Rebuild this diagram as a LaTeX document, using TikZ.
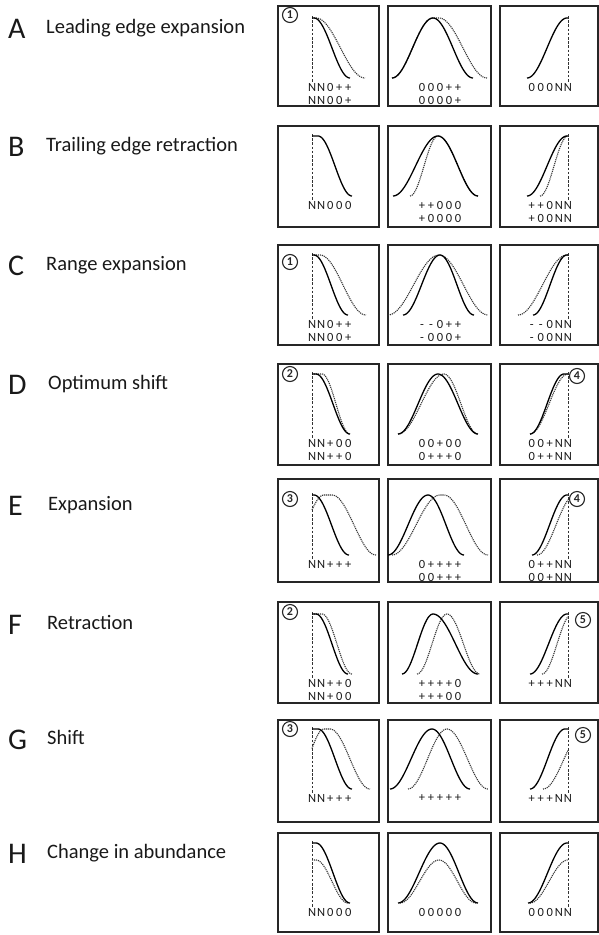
\documentclass[tikz,border=0pt]{standalone}
\usepackage{fontspec}
\setmainfont{Carlito}
\makeatletter
\newcommand\cseq[1]{\@tfor\cc:=#1\do{\makebox[9pt]{\cc}}}
\makeatother
\tikzset{
 boxframe/.style={draw=black!85, line width=1.2pt},
 solidc/.style={draw=black, line width=1.3pt},
 dotc/.style={draw=black!80, line width=1.1pt, dash pattern=on 1.1pt off 0.9pt},
 rangeline/.style={draw=black!80, line width=0.9pt, dash pattern=on 2.6pt off 1.6pt},
 codetext/.style={font=\fontsize{12.5}{13}\selectfont, inner sep=0pt, text=black!90},
 lettertext/.style={font=\fontsize{30}{30}\selectfont, anchor=base west, inner sep=0pt, text=black!90},
 labeltext/.style={font=\fontsize{20.5}{22}\selectfont, anchor=base west, inner sep=0pt, text=black!90},
 circnum/.style={draw=black!85, circle, line width=1.1pt, minimum size=15pt, inner sep=0pt, font=\fontsize{12}{12}\selectfont\bfseries, text=black!85},
}
% style, xs, xe, T, L, Ls, Rs, R
\newcommand\crv[8]{\draw[#1] plot[domain=#2:#3, samples=60, smooth] (\x, {60-(60-#4)*rs(\x,#5,#6)*(1-rs(\x,#7,#8))});}
\newcommand\fallc[4]{\crv{#1}{34}{#4}{#2}{-20}{0}{#3}{#4}}% style,T,Rs,R
\newcommand\risec[4]{\crv{#1}{#3}{68}{#2}{#3}{#4}{200}{220}}% style,T,L,Ls
\newcommand\bellc[6]{\crv{#1}{#3}{#6}{#2}{#3}{#4}{#5}{#6}}% style,T,L,Ls,Rs,R
\newcommand\lcodes[2]{\node[codetext, anchor=west] at (29.5,69) {\cseq{#1}};%
 \if\relax\detokenize{#2}\relax\else\node[codetext, anchor=west] at (29.5,82) {\cseq{#2}};\fi}
\newcommand\mcodes[2]{\node[codetext] at (52,69) {\cseq{#1}};%
 \if\relax\detokenize{#2}\relax\else\node[codetext] at (52,82) {\cseq{#2}};\fi}
\newcommand\rcodes[2]{\node[codetext, anchor=east] at (72.5,69) {\cseq{#1}};%
 \if\relax\detokenize{#2}\relax\else\node[codetext, anchor=east] at (72.5,82) {\cseq{#2}};\fi}
\newcommand\ldash{\draw[rangeline] (34,-2) -- (34,65);}
\newcommand\rdash{\draw[rangeline] (68,-2) -- (68,65);}
\newcommand\rowboxes[2]{%
 \draw[boxframe] (278,#1) rectangle (379,#2);
 \draw[boxframe] (388,#1) rectangle (491,#2);
 \draw[boxframe] (500,#1) rectangle (598,#2);}

\begin{document}
\begin{tikzpicture}[x=1pt, y=-1pt,
  declare function={rs(\xx,\la,\lb)=(1-cos(180*max(0,min(1,(\xx-\la)/(\lb-\la)))))/2;}]
\useasboundingbox (0,0) rectangle (599,935);

% ---------- labels ----------
\node[lettertext] (lA) at (8,38) {A};
\node[labeltext] (tA) at (46,33) {Leading edge expansion};
\node[lettertext] (lB) at (8,156) {B};
\node[labeltext] (tB) at (46,151) {Trailing edge retraction};
\node[lettertext] (lC) at (8,275) {C};
\node[labeltext] (tC) at (46,270) {Range expansion};
\node[lettertext] (lD) at (8,394) {D};
\node[labeltext] (tD) at (48,389) {Optimum shift};
\node[lettertext] (lE) at (8,515) {E};
\node[labeltext] (tE) at (48,510) {Expansion};
\node[lettertext] (lF) at (8,634) {F};
\node[labeltext] (tF) at (47,629) {Retraction};
\node[lettertext] (lG) at (8,749) {G};
\node[labeltext] (tG) at (47,744) {Shift};
\node[lettertext] (lH) at (8,863) {H};
\node[labeltext] (tH) at (47,858) {Change in abundance};

% ---------- boxes ----------
\rowboxes{6}{106}
\rowboxes{126}{227}
\rowboxes{245}{345}
\rowboxes{364}{465}
\rowboxes{479}{582}
\rowboxes{602}{703}
\rowboxes{720}{822}
\rowboxes{833}{932}

% ---------- Row A ----------
\begin{scope}[shift={(278,18)}]
 \ldash \fallc{dotc}{0}{38}{87} \fallc{solidc}{0}{36}{72} \lcodes{NN0++}{NN00+}
\end{scope}
\begin{scope}[shift={(388,18)}]
 \bellc{dotc}{0}{4}{45}{51}{99} \bellc{solidc}{0}{4}{45}{45}{85} \mcodes{000++}{0000+}
\end{scope}
\begin{scope}[shift={(500,18)}]
 \rdash \risec{solidc}{0}{27}{67} \rcodes{000NN}{}
\end{scope}

% ---------- Row B ----------
\begin{scope}[shift={(278,136)}]
 \ldash \fallc{solidc}{0}{40}{74} \lcodes{NN000}{}
\end{scope}
\begin{scope}[shift={(388,136)}]
 \bellc{dotc}{0}{22}{50}{50}{90} \bellc{solidc}{0}{5}{50}{50}{90} \mcodes{++000}{+0000}
\end{scope}
\begin{scope}[shift={(500,136)}]
 \rdash \risec{dotc}{0}{40}{68} \risec{solidc}{0}{27}{67} \rcodes{++0NN}{+00NN}
\end{scope}

% ---------- Row C ----------
\begin{scope}[shift={(278,255)}]
 \ldash \fallc{dotc}{0}{42}{88} \fallc{solidc}{0}{36}{70} \lcodes{NN0++}{NN00+}
\end{scope}
\begin{scope}[shift={(388,255)}]
 \bellc{dotc}{0}{0}{51}{51}{100} \bellc{solidc}{0}{15}{52}{52}{86} \mcodes{--0++}{-000+}
\end{scope}
\begin{scope}[shift={(500,255)}]
 \rdash \risec{dotc}{0}{18}{67} \risec{solidc}{0}{33}{67} \rcodes{--0NN}{-00NN}
\end{scope}

% ---------- Row D ----------
\begin{scope}[shift={(278,374)}]
 \ldash \fallc{dotc}{0}{44}{72} \fallc{solidc}{0}{38}{72} \lcodes{NN+00}{NN++0}
\end{scope}
\begin{scope}[shift={(388,374)}]
 \bellc{dotc}{0}{10}{56}{56}{90} \bellc{solidc}{0}{10}{50}{50}{90} \mcodes{00+00}{0+++0}
\end{scope}
\begin{scope}[shift={(500,374)}]
 \rdash \risec{dotc}{0}{30}{68} \risec{solidc}{0}{30}{64} \rcodes{00+NN}{0++NN}
\end{scope}

% ---------- Row E ----------
\begin{scope}[shift={(278,495)}]
 \ldash \crv{dotc}{34}{98}{0}{10}{46}{54}{98} \fallc{solidc}{0}{36}{71} \lcodes{NN+++}{}
\end{scope}
\begin{scope}[shift={(388,495)}]
 \bellc{dotc}{0}{4}{52}{56}{100} \bellc{solidc}{0}{0}{40}{40}{76} \mcodes{0++++}{00+++}
\end{scope}
\begin{scope}[shift={(500,495)}]
 \rdash \risec{dotc}{0}{37}{75} \risec{solidc}{0}{32}{67} \rcodes{0++NN}{00+NN}
\end{scope}

% ---------- Row F ----------
\begin{scope}[shift={(278,614)}]
 \ldash \fallc{dotc}{0}{44}{74} \fallc{solidc}{0}{38}{70} \lcodes{NN++0}{NN+00}
\end{scope}
\begin{scope}[shift={(388,614)}]
 \bellc{dotc}{0}{29}{59}{59}{92} \bellc{solidc}{0}{14}{45}{45}{90} \mcodes{++++0}{+++00}
\end{scope}
\begin{scope}[shift={(500,614)}]
 \rdash \risec{dotc}{0}{42}{72} \risec{solidc}{0}{30}{67} \rcodes{+++NN}{}
\end{scope}

% ---------- Row G ----------
\begin{scope}[shift={(278,729)}]
 \ldash \crv{dotc}{34}{92}{0}{15}{46}{52}{92} \fallc{solidc}{0}{40}{74} \lcodes{NN+++}{}
\end{scope}
\begin{scope}[shift={(388,729)}]
 \bellc{dotc}{0}{20}{59}{59}{100} \bellc{solidc}{0}{2}{44}{44}{82} \mcodes{+++++}{}
\end{scope}
\begin{scope}[shift={(500,729)}]
 \rdash \crv{dotc}{43}{68}{0}{43}{85}{200}{220} \risec{solidc}{0}{30}{65} \rcodes{+++NN}{}
\end{scope}

% ---------- Row H ----------
\begin{scope}[shift={(278,843)}]
 \ldash \fallc{dotc}{17}{38}{70} \fallc{solidc}{0}{38}{72} \lcodes{NN000}{}
\end{scope}
\begin{scope}[shift={(388,843)}]
 \bellc{dotc}{17}{12}{51}{51}{88} \bellc{solidc}{0}{10}{52}{52}{90} \mcodes{00000}{}
\end{scope}
\begin{scope}[shift={(500,843)}]
 \rdash \risec{dotc}{17}{30}{68} \risec{solidc}{0}{28}{67} \rcodes{000NN}{}
\end{scope}

% ---------- circled numbers ----------
\node[circnum] (cA) at (290,15) {1};
\node[circnum] (cC) at (290,262) {1};
\node[circnum] (cD) at (290,374) {2};
\node[circnum] (cE) at (290,499) {3};
\node[circnum] (cF) at (290,612) {2};
\node[circnum] (cG) at (290,729) {3};
\node[circnum] (cD2) at (577,376) {4};
\node[circnum] (cE2) at (577,499) {4};
\node[circnum] (cF2) at (583,620) {5};
\node[circnum] (cG2) at (583,735) {5};
\end{tikzpicture}
\end{document}
